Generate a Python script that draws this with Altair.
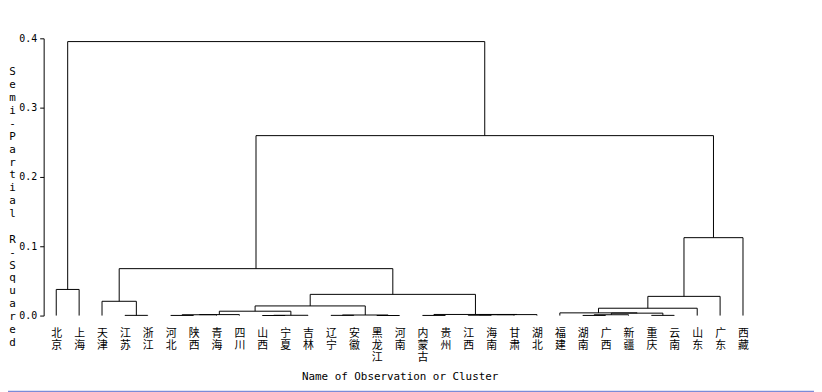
import altair as alt
import pandas as pd

# Leaf order (left to right)
leaves = ["北京", "上海", "天津", "江苏", "浙江", "河北", "陕西", "青海", "四川", "山西",
          "宁夏", "吉林", "辽宁", "安徽", "黑龙江", "河南", "内蒙古", "贵州", "江西", "海南",
          "甘肃", "湖北", "福建", "湖南", "广西", "新疆", "重庆", "云南", "山东", "广东", "西藏"]

# Merges: (new cluster id, left child, right child, semi-partial R-squared)
merge_ids = ["JZ", "A1", "A2", "A", "B1", "B", "C1", "C2", "C", "P", "Q1", "Q2", "Q", "D",
             "T1", "T", "R", "S", "H", "BS", "E", "AB", "ABC", "ABCD", "EA", "G", "G2", "F",
             "R2", "ROOT"]
merge_left = ["江苏", "河北", "A1", "A2", "山西", "B1", "辽宁", "黑龙江", "C1", "内蒙古", "江西",
              "Q1", "Q2", "P", "湖南", "T1", "重庆", "T", "福建", "北京", "天津", "A", "AB",
              "ABC", "E", "H", "G", "G2", "EA", "BS"]
merge_right = ["浙江", "陕西", "青海", "四川", "宁夏", "吉林", "安徽", "河南", "C2", "贵州", "海南",
               "甘肃", "湖北", "Q", "广西", "新疆", "云南", "R", "S", "上海", "JZ", "B", "C",
               "D", "ABCD", "山东", "广东", "西藏", "F", "R2"]
merge_height = [0.0003, 0.0002, 0.0012, 0.0014, 0.0001, 0.0004, 0.0003, 0.0001, 0.0008,
                0.0002, 0.0005, 0.0012, 0.0014, 0.0016, 0.0002, 0.0012, 0.0003, 0.0035,
                0.0039, 0.0377, 0.0206, 0.0063, 0.0139, 0.0306, 0.0677, 0.0106, 0.0277,
                0.1124, 0.2596, 0.3953]

y_ticks = [0.0, 0.1, 0.2, 0.3, 0.4]
y_title = "Semi-Partial R-Squared"

# Build segments from the tree structure
pos = {name: float(i) for i, name in enumerate(leaves)}
hgt = {name: 0.0 for name in leaves}
segs = []
for cid, l, r, h in zip(merge_ids, merge_left, merge_right, merge_height):
    segs.append({"x": pos[l], "x2": pos[l], "y": hgt[l], "y2": h})
    segs.append({"x": pos[r], "x2": pos[r], "y": hgt[r], "y2": h})
    segs.append({"x": pos[l], "x2": pos[r], "y": h, "y2": h})
    pos[cid] = (pos[l] + pos[r]) / 2
    hgt[cid] = h
df = pd.DataFrame(segs)

names_js = "[" + ",".join("'" + n + "'" for n in leaves) + "]"
title_lines = [c if c != " " else "\u200b" for c in y_title]

xscale = alt.Scale(domain=[-0.55, 30.55], nice=False, zero=False)
yscale = alt.Scale(domain=[0, 0.4], nice=False)

tree = alt.Chart(df).mark_rule(color="black", strokeWidth=1).encode(
    x=alt.X("x:Q", scale=xscale,
            axis=alt.Axis(values=list(range(len(leaves))),
                          labelExpr="split(" + names_js + "[datum.value], '')",
                          domain=False, ticks=False, grid=False,
                          labelFont="Noto Sans CJK SC", labelFontSize=11,
                          labelColor="black", labelLineHeight=12,
                          labelBaseline="top", labelPadding=12, labelAngle=0,
                          labelOverlap=False,
                          title="Name of Observation or Cluster",
                          titleFont="DejaVu Sans Mono", titleFontSize=11,
                          titleFontWeight="normal", titleColor="black",
                          titleX=359.5, titleY=62, titleBaseline="middle")),
    x2="x2:Q",
    y=alt.Y("y:Q", scale=yscale,
            axis=alt.Axis(values=y_ticks, format=".1f", grid=False,
                          domainColor="black", tickColor="black", tickSize=4,
                          labelFont="DejaVu Sans Mono", labelFontSize=10,
                          labelColor="black", labelPadding=3,
                          title=title_lines,
                          titleFont="DejaVu Sans Mono", titleFontSize=11,
                          titleFontWeight="normal", titleColor="black",
                          titleAngle=0, titleAlign="center", titleBaseline="top",
                          titleLineHeight=13, titleX=-32, titleY=28)),
    y2="y2:Q",
)

frame_line = alt.Chart(pd.DataFrame({"k": [0]})).mark_rule(
    color="#7b8bd8", strokeWidth=2
).encode(x=alt.value(-36), x2=alt.value(778), y=alt.value(357))

chart = alt.layer(tree, frame_line).properties(
    width=719, height=280,
    autosize=alt.AutoSizeParams(type="none"),
    padding={"left": 36, "top": 28.7, "right": 59, "bottom": 80},
).configure(background="white").configure_view(stroke=None, strokeWidth=0)

chart.save("out.html", embed_options={"renderer": "svg", "actions": False})
